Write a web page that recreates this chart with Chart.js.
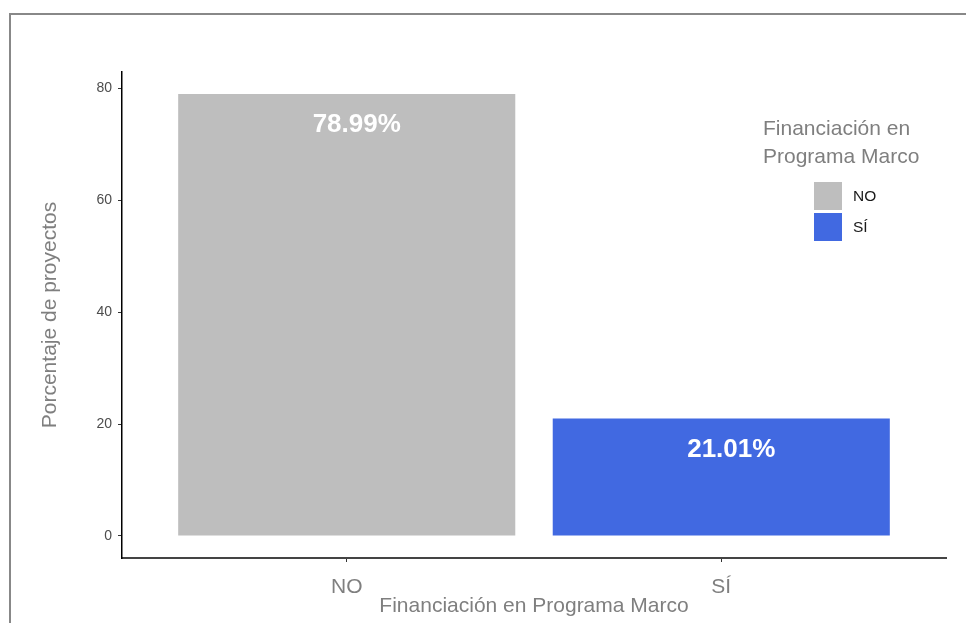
<!DOCTYPE html>
<html>
<head>
<meta charset="utf-8">
<script src="https://cdn.jsdelivr.net/npm/chart.js@4"></script>
<style>
  html, body { margin: 0; padding: 0; background: #fff; }
  #wrap { position: relative; width: 966px; height: 623px; overflow: hidden; }
  #frame { position: absolute; left: 9px; top: 13px; width: 1200px; height: 900px;
           border-top: 2px solid #888; border-left: 2px solid #888; }
  canvas { position: absolute; left: 0; top: 0; }
</style>
</head>
<body>
<div id="wrap">
  <div id="frame"></div>
  <canvas id="chart" width="966" height="623"></canvas>
</div>
<script>
// ------------------------------
// DATA
// ------------------------------
const categories = ['NO', 'SÍ'];
const percentages = [78.99, 21.01];
const barColors = ['#BEBEBE', '#4169E1'];
const yTicks = [0, 20, 40, 60, 80];
const legendTitleLines = ['Financiación en', 'Programa Marco'];
const xTitle = 'Financiación en Programa Marco';
const yTitle = 'Porcentaje de proyectos';

const FONT = "'Liberation Sans', Arial, sans-serif";
const maxVal = Math.max(...percentages);

// bar value labels, drawn inside the top of each bar
const barLabels = {
  id: 'barLabels',
  afterDatasetsDraw(chart) {
    const ctx = chart.ctx;
    const meta = chart.getDatasetMeta(0);
    ctx.save();
    ctx.font = 'bold 26px ' + FONT;
    ctx.fillStyle = '#ffffff';
    ctx.textAlign = 'center';
    ctx.textBaseline = 'middle';
    meta.data.forEach((bar, i) => {
      ctx.fillText(percentages[i].toFixed(2) + '%', bar.x + 10, bar.y + 31);
    });
    ctx.restore();
  }
};

// legend placed inside the panel (like ggplot legend.position inside)
const insideLegend = {
  id: 'insideLegend',
  afterDraw(chart) {
    const ctx = chart.ctx;
    const area = chart.chartArea;
    const x0 = area.right - 183;
    ctx.save();
    ctx.font = '21px ' + FONT;
    ctx.fillStyle = '#7f7f7f';
    ctx.textAlign = 'left';
    ctx.textBaseline = 'alphabetic';
    legendTitleLines.forEach((line, i) => {
      ctx.fillText(line, x0, area.top + 63 + i * 27.5);
    });
    const keyX = area.right - 132;
    const keyTop = area.top + 110;
    const keySize = 28;
    categories.forEach((cat, i) => {
      const ky = keyTop + i * 31;
      ctx.fillStyle = barColors[i];
      ctx.fillRect(keyX, ky, keySize, keySize);
      ctx.fillStyle = '#1a1a1a';
      ctx.font = '15.5px ' + FONT;
      ctx.textBaseline = 'middle';
      ctx.fillText(cat, keyX + 39, ky + keySize / 2 + 1);
    });
    ctx.restore();
  }
};

const ctx = document.getElementById('chart').getContext('2d');
new Chart(ctx, {
  type: 'bar',
  data: {
    datasets: [{
      data: categories.map((c, i) => ({ x: i + 1, y: percentages[i] })),
      backgroundColor: barColors,
      borderWidth: 0,
      categoryPercentage: 1,
      barPercentage: 0.9
    }]
  },
  plugins: [barLabels, insideLegend],
  options: {
    responsive: false,
    animation: false,
    layout: { padding: { top: 72, right: 20, bottom: 0, left: 0 } },
    plugins: {
      legend: { display: false },
      tooltip: { enabled: false }
    },
    scales: {
      x: {
        type: 'linear',
        offset: false,
        min: 0.4,
        max: 2.6,
        afterBuildTicks: (scale) => { scale.ticks = categories.map((c, i) => ({ value: i + 1 })); },
        afterFit: (scale) => { scale.height = 65; },
        ticks: {
          callback: (v) => categories[v - 1],
          color: '#7f7f7f',
          font: { family: FONT, size: 21 },
          padding: 13,
          maxRotation: 0,
          autoSkip: false
        },
        grid: { display: true, offset: false, drawOnChartArea: false, drawTicks: true, tickLength: 4, color: '#333333', lineWidth: 1 },
        border: { display: true, color: '#444444', width: 2 },
        title: {
          display: true,
          text: xTitle,
          color: '#7f7f7f',
          font: { family: FONT, size: 21 },
          padding: { top: 0, bottom: 4 }
        }
      },
      y: {
        min: -0.05 * maxVal,
        max: 1.05 * maxVal,
        afterBuildTicks: (scale) => { scale.ticks = yTicks.map(v => ({ value: v })); },
        afterFit: (scale) => { scale.width = 122; },
        ticks: {
          color: '#4d4d4d',
          font: { family: FONT, size: 14 },
          padding: 6
        },
        grid: { display: true, drawOnChartArea: false, drawTicks: true, tickLength: 4, color: '#333333', lineWidth: 1 },
        border: { display: true, color: '#000000', width: 1.5 },
        title: {
          display: true,
          text: yTitle,
          color: '#7f7f7f',
          font: { family: FONT, size: 21 },
          padding: { top: 38, bottom: 0 }
        }
      }
    }
  }
});
</script>
</body>
</html>
